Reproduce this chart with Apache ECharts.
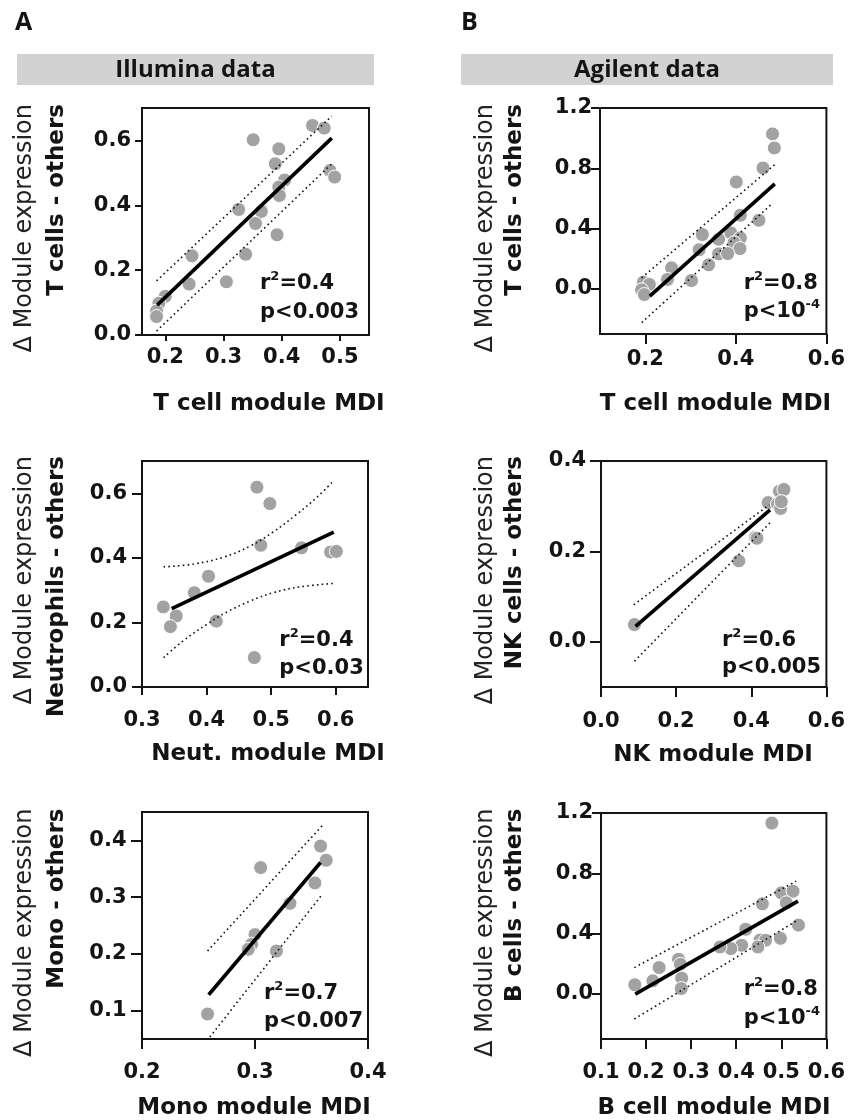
<!DOCTYPE html>
<html>
<head>
<meta charset="utf-8">
<script src="https://cdn.jsdelivr.net/npm/echarts@6/dist/echarts.min.js"></script>
<style>html,body{margin:0;padding:0;background:#fff}#c{width:848px;height:1120px}</style>
</head>
<body>
<div id="c"></div>
<script>
// ---------- DATA ----------
// Panel A1: Illumina, T cells
const a1X = [0.453,0.473,0.351,0.395,0.389,0.483,0.491,0.405,0.395,0.396,0.326,0.365,0.355,0.392,0.338,0.246,0.241,0.305,0.200,0.189,0.185,0.185];
const a1Y = [0.646,0.638,0.602,0.574,0.528,0.507,0.487,0.478,0.456,0.430,0.387,0.381,0.344,0.309,0.249,0.244,0.157,0.164,0.119,0.098,0.074,0.057];
const a1FitX = [0.186,0.486], a1FitY = [0.092,0.607];
const a1UpX = [0.185,0.486], a1UpY = [0.167,0.675];
const a1LoX = [0.185,0.486], a1LoY = [0.012,0.528];

// Panel B1: Agilent, T cells
const b1X = [0.481,0.485,0.460,0.401,0.410,0.451,0.326,0.389,0.362,0.410,0.396,0.409,0.319,0.362,0.382,0.340,0.258,0.249,0.302,0.196,0.209,0.192,0.198];
const b1Y = [1.028,0.935,0.802,0.709,0.488,0.455,0.360,0.371,0.329,0.338,0.305,0.267,0.259,0.232,0.234,0.159,0.139,0.062,0.055,0.044,0.029,-0.007,-0.038];
const b1FitX = [0.210,0.486], b1FitY = [-0.049,0.696];
const b1UpX = [0.192,0.486], b1UpY = [0.073,0.824];
const b1LoX = [0.192,0.482], b1LoY = [-0.225,0.570];

// Panel A2: Illumina, Neutrophils
const a2X = [0.478,0.498,0.484,0.547,0.592,0.601,0.403,0.381,0.333,0.353,0.344,0.415,0.474];
const a2Y = [0.619,0.568,0.439,0.431,0.418,0.420,0.343,0.292,0.248,0.220,0.187,0.204,0.091];
const a2FitX = [0.346,0.597], a2FitY = [0.243,0.480];
const a2UpX = [0.3335,0.380,0.426,0.467,0.503,0.539,0.570,0.597];
const a2UpY = [0.372,0.381,0.402,0.436,0.480,0.534,0.586,0.639];
const a2LoX = [0.3335,0.3643,0.4004,0.4312,0.4673,0.5033,0.5445,0.5975];
const a2LoY = [0.091,0.144,0.194,0.232,0.266,0.292,0.310,0.321];

// Panel B2: Agilent, NK cells
const b2X = [0.089,0.367,0.411,0.415,0.445,0.475,0.487,0.470,0.478,0.480];
const b2Y = [0.038,0.179,0.231,0.229,0.308,0.333,0.337,0.305,0.295,0.310];
const b2FitX = [0.092,0.450], b2FitY = [0.034,0.292];
const b2UpX = [0.087,0.448], b2UpY = [0.082,0.303];
const b2LoX = [0.089,0.453], b2LoY = [-0.043,0.266];

// Panel A3: Illumina, Mono
const a3X = [0.358,0.363,0.305,0.353,0.331,0.300,0.297,0.294,0.319,0.258];
const a3Y = [0.390,0.365,0.352,0.325,0.289,0.234,0.217,0.208,0.205,0.094];
const a3FitX = [0.259,0.358], a3FitY = [0.128,0.361];
const a3UpX = [0.258,0.360], a3UpY = [0.205,0.427];
const a3LoX = [0.260,0.360], a3LoY = [0.0535,0.306];

// Panel B3: Agilent, B cells
const b3X = [0.479,0.500,0.526,0.511,0.458,0.538,0.421,0.498,0.453,0.465,0.448,0.412,0.388,0.364,0.272,0.276,0.229,0.215,0.175,0.279,0.278];
const b3Y = [1.133,0.670,0.681,0.604,0.597,0.456,0.428,0.368,0.357,0.355,0.311,0.322,0.300,0.311,0.229,0.196,0.174,0.086,0.060,0.104,0.035];
const b3FitX = [0.176,0.537], b3FitY = [-0.002,0.615];
const b3UpX = [0.174,0.533], b3UpY = [0.174,0.747];
const b3LoX = [0.174,0.533], b3LoY = [-0.167,0.483];

// Axis ranges and tick labels
const xTicks = [[0.2,0.3,0.4,0.5],[0.2,0.4,0.6],[0.3,0.4,0.5,0.6],[0.0,0.2,0.4,0.6],[0.2,0.3,0.4],[0.1,0.2,0.3,0.4,0.5,0.6]];
const yTicks = [[0.0,0.2,0.4,0.6],[0.0,0.4,0.8,1.2],[0.0,0.2,0.4,0.6],[0.0,0.2,0.4],[0.1,0.2,0.3,0.4],[0.0,0.4,0.8,1.2]];
const xRange = [[0.16,0.55],[0.1,0.6],[0.3,0.65],[0.0,0.6],[0.2,0.4],[0.1,0.6]];
const yRange = [[0,0.7],[-0.3,1.2],[0,0.7],[-0.1,0.4],[0.05,0.45],[-0.3,1.2]];

// Texts
const headers = ['Illumina data','Agilent data'];
const panelLetters = ['A','B'];
const yNameTop = 'Δ Module expression';
const yNames = ['T cells - others','T cells - others','Neutrophils - others','NK cells - others','Mono - others','B cells - others'];
const xNames = ['T cell module MDI','T cell module MDI','Neut. module MDI','NK module MDI','Mono module MDI','B cell module MDI'];
const rValues = ['0.4','0.8','0.4','0.6','0.7','0.8'];
const pMain = ['p<0.003','p<10','p<0.03','p<0.005','p<0.007','p<10'];
const pSup = ['','-4','','','','-4'];

// ---------- LAYOUT ----------
const grids = [
  {left:142, top:108, width:227, height:227},
  {left:600, top:108, width:227, height:226},
  {left:142, top:461, width:226, height:226},
  {left:601, top:461, width:226, height:226},
  {left:142, top:812, width:226, height:227},
  {left:601, top:813, width:226, height:226}
];
const xTickLen = [6,10,8,10,10,10];
const xLabMargin = [12,15,23,24,23,23];
const yTickLen = [7,9,10,11,11,9];
const yLabMargin = [11,8,15,15,15.5,8];
const xTitlePos = [[269,404.5],[715.5,404.5],[268,754],[713,755],[254,1108.5],[714,1108]];
const statLeft = [260,743.7,279.3,722,264,743.7];
const rBase = [290,290,646.3,646.3,999.7,995.3];
const pBase = [318.3,318,674.7,674,1028,1024.7];
const yNameTopY = [104,104,456,456,808.5,808.5];
const isB = i => i % 2 === 1;

const panels = [
  [a1X,a1Y,a1FitX,a1FitY,a1UpX,a1UpY,a1LoX,a1LoY],
  [b1X,b1Y,b1FitX,b1FitY,b1UpX,b1UpY,b1LoX,b1LoY],
  [a2X,a2Y,a2FitX,a2FitY,a2UpX,a2UpY,a2LoX,a2LoY],
  [b2X,b2Y,b2FitX,b2FitY,b2UpX,b2UpY,b2LoX,b2LoY],
  [a3X,a3Y,a3FitX,a3FitY,a3UpX,a3UpY,a3LoX,a3LoY],
  [b3X,b3Y,b3FitX,b3FitY,b3UpX,b3UpY,b3LoX,b3LoY]
];

const pair = (xs, ys) => xs.map((v, i) => [v, ys[i]]);
const TF = 'DejaVu Sans';
const INK = '#141414';

const option = {
  animation: false,
  backgroundColor: '#fff',
  grid: grids.map(g => Object.assign({show:true, borderColor:INK, borderWidth:2, backgroundColor:'transparent', containLabel:false}, g)),
  xAxis: grids.map((g, i) => ({
    type:'value', gridIndex:i, min:xRange[i][0], max:xRange[i][1],
    axisLine:{show:true, onZero:false, lineStyle:{color:INK, width:2}},
    axisTick:{show:true, customValues:xTicks[i], length:xTickLen[i], lineStyle:{color:INK, width:2}},
    axisLabel:{customValues:xTicks[i], margin:xLabMargin[i], formatter:v=>v.toFixed(1), color:INK, fontFamily:TF, fontWeight:'bold', fontSize:21},
    splitLine:{show:false}
  })),
  yAxis: grids.map((g, i) => ({
    type:'value', gridIndex:i, min:yRange[i][0], max:yRange[i][1],
    axisLine:{show:true, onZero:false, lineStyle:{color:INK, width:2}},
    axisTick:{show:true, customValues:yTicks[i], length:yTickLen[i], lineStyle:{color:INK, width:2}},
    axisLabel:{customValues:yTicks[i], margin:yLabMargin[i], formatter:v=>v.toFixed(1), color:INK, fontFamily:TF, fontWeight:'bold', fontSize:21},
    splitLine:{show:false}
  })),
  series: [],
  graphic: []
};

panels.forEach((p, i) => {
  option.series.push({
    type:'scatter', xAxisIndex:i, yAxisIndex:i, data:pair(p[0], p[1]),
    symbol:'circle', symbolSize:14, z:2,
    itemStyle:{color:'#a2a2a2', borderColor:'#ffffff', borderWidth:1, opacity:1}
  });
  option.series.push({
    type:'line', xAxisIndex:i, yAxisIndex:i, data:pair(p[2], p[3]), symbol:'none', z:4,
    lineStyle:{color:'#000', width:3.6}
  });
  [[p[4],p[5]],[p[6],p[7]]].forEach(b => {
    option.series.push({
      type:'line', xAxisIndex:i, yAxisIndex:i, data:pair(b[0], b[1]), symbol:'none', z:3,
      smooth: b[0].length > 2 ? 0.4 : false,
      lineStyle:{color:'#111', width:1.6, type:[1.6,3.2]}
    });
  });
});

const txt = (x, y, text, family, size, weight, align, extra) => Object.assign({
  type:'text', x:x, y:y, z:10,
  style:{text:text, fontFamily:family, fontSize:size, fontWeight:weight, fill:INK, align:align, verticalAlign:'middle'}
}, extra || {});

// header bars and letters
option.graphic.push(
  {type:'rect', shape:{x:17, y:54, width:357, height:31}, style:{fill:'#d3d2d2'}},
  {type:'rect', shape:{x:461, y:54, width:372, height:31}, style:{fill:'#d3d2d2'}},
  txt(195.5, 70, headers[0], 'Open Sans', 24, 'bold', 'center'),
  txt(647, 70, headers[1], 'Open Sans', 24, 'bold', 'center'),
  txt(15, 23, panelLetters[0], 'Open Sans', 25, 'bold', 'left'),
  txt(461, 23, panelLetters[1], 'Open Sans', 25, 'bold', 'left')
);

grids.forEach((g, i) => {
  const nx = isB(i) ? 485.7 : 25;
  const bx = isB(i) ? 515 : 57;
  const yt1 = txt(nx, yNameTopY[i], yNameTop, TF, 24, 'normal', 'right', {rotation:Math.PI/2});
  yt1.style.fill = '#222';
  option.graphic.push(
    yt1,
    txt(bx, yNameTopY[i], yNames[i], TF, 23, 'bold', 'right', {rotation:Math.PI/2}),
    txt(xTitlePos[i][0], xTitlePos[i][1], xNames[i], TF, 23, 'bold', 'center'),
    {type:'text', x:statLeft[i], y:rBase[i]-7.5, z:10,
     style:{text:'{b|r}{s|2}{b|=' + rValues[i] + '}', fill:INK, align:'left', verticalAlign:'middle',
       rich:{b:{fontFamily:TF, fontWeight:'bold', fontSize:21, lineHeight:24, fill:INK, verticalAlign:'bottom'},
             s:{fontFamily:TF, fontWeight:'bold', fontSize:13, lineHeight:13, fill:INK, verticalAlign:'top'}}}},
    {type:'text', x:statLeft[i], y:pBase[i]-7.5, z:10,
     style:{text:'{b|' + pMain[i] + '}' + (pSup[i] ? '{s|' + pSup[i] + '}' : ''), fill:INK, align:'left', verticalAlign:'middle',
       rich:{b:{fontFamily:TF, fontWeight:'bold', fontSize:21, lineHeight:24, fill:INK, verticalAlign:'bottom'},
             s:{fontFamily:TF, fontWeight:'bold', fontSize:13, lineHeight:13, fill:INK, verticalAlign:'top'}}}}
  );
});

const chart = echarts.init(document.getElementById('c'), null, {renderer:'canvas'});
chart.setOption(option);
</script>
</body>
</html>
